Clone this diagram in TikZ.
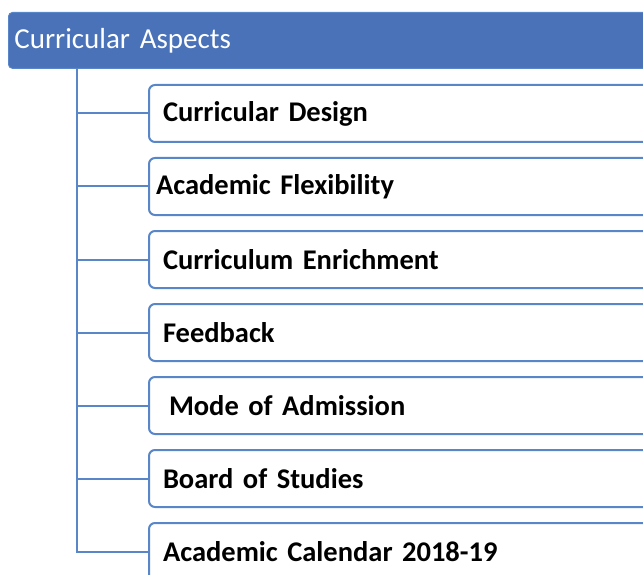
\documentclass[tikz,border=0pt]{standalone}
\usepackage{fontspec}
\setmainfont{Carlito}
\usepackage{tikz}
\usetikzlibrary{positioning}
\definecolor{headblue}{RGB}{74,114,185}
\definecolor{lineblue}{RGB}{88,134,200}

\begin{document}
\begin{tikzpicture}[
    x=1pt, y=-1pt,
    node distance=14pt,
    head/.style={rectangle, draw=lineblue, fill=headblue, thick, rounded corners=4pt, anchor=north west, minimum height=56pt, text width=640pt, inner xsep=6pt, align=left, text=white, font=\fontsize{29}{32}\selectfont},
    item/.style={rectangle, draw=lineblue, line width=2pt, fill=white, rounded corners=6pt, minimum height=57pt, text width=480pt, inner xsep=14pt, align=left, font=\bfseries\fontsize{28.5}{31}\selectfont},
    link/.style={draw=lineblue, line width=2pt}
]
\clip (0,0) rectangle (643,575);

% Header
\node[head] (aspects) at (8,12) {Curricular Aspects};
\coordinate (trunk) at (77,68);

% Sub-items
\node[item, anchor=north west] (design) at (148,84) {Curricular Design};
\node[item, below=of design] (flex) {\hspace*{-7pt}Academic Flexibility};
\node[item, below=of flex] (enrich) {Curriculum Enrichment};
\node[item, below=of enrich] (feedback) {Feedback};
\node[item, below=of feedback] (admission) {\hspace*{6pt}Mode of Admission};
\node[item, below=of admission] (bos) {Board of Studies};
\node[item, below=of bos] (calendar) {Academic Calendar 2018-19};

% Connectors
\draw[link] (trunk) |- (calendar.west);
\draw[link] (trunk |- design.west) -- (design.west);
\draw[link] (trunk |- flex.west) -- (flex.west);
\draw[link] (trunk |- enrich.west) -- (enrich.west);
\draw[link] (trunk |- feedback.west) -- (feedback.west);
\draw[link] (trunk |- admission.west) -- (admission.west);
\draw[link] (trunk |- bos.west) -- (bos.west);

\end{tikzpicture}
\end{document}
